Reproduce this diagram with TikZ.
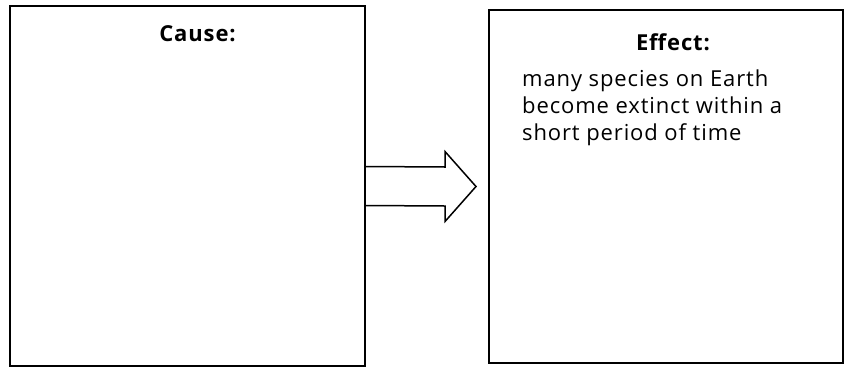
\documentclass[tikz,border=0pt]{standalone}
\usepackage{fontspec}
\setmainfont[LetterSpace=4]{Open Sans}
\usetikzlibrary{positioning}

\tikzset{
  panel/.style={draw, line width=2pt, inner sep=0pt},
  heading/.style={font=\bfseries\fontsize{22}{27}\selectfont, inner sep=0pt, anchor=base},
  bodytext/.style={font=\fontsize{22}{27}\selectfont, align=left, inner sep=0pt, anchor=base west},
  bigarrow/.style={draw, line width=1.5pt, line join=miter}
}

\begin{document}
\begin{tikzpicture}[x=1pt,y=-1pt]
  \useasboundingbox (0,0) rectangle (847,368);

  % the two boxes
  \node[panel, minimum width=355pt, minimum height=360pt] (cause) at (187.5,186) {};
  \node[panel, minimum width=354pt, minimum height=353pt] (effect) at (666,186.5) {};

  % headings and text (base of the text block is its last line)
  \node[heading] (causetitle) at (197.5,41) {Cause:};
  \node[heading] (effecttitle) at (673,50) {Effect:};
  \node[bodytext] (effecttext) at (522,140.5) {many species on Earth\\
    become extinct within a\\
    short period of time};

  % block arrow from cause to effect
  \coordinate[left=12pt of effect.west] (tip);
  \draw[bigarrow] ([yshift=19.5pt]cause.east)
    -- ([xshift=-31pt,yshift=19.5pt]tip)
    -- ([xshift=-31pt,yshift=35pt]tip)
    -- (tip)
    -- ([xshift=-31pt,yshift=-35pt]tip)
    -- ([xshift=-31pt,yshift=-19.5pt]tip)
    -- ([yshift=-19.5pt]cause.east);
\end{tikzpicture}
\end{document}
